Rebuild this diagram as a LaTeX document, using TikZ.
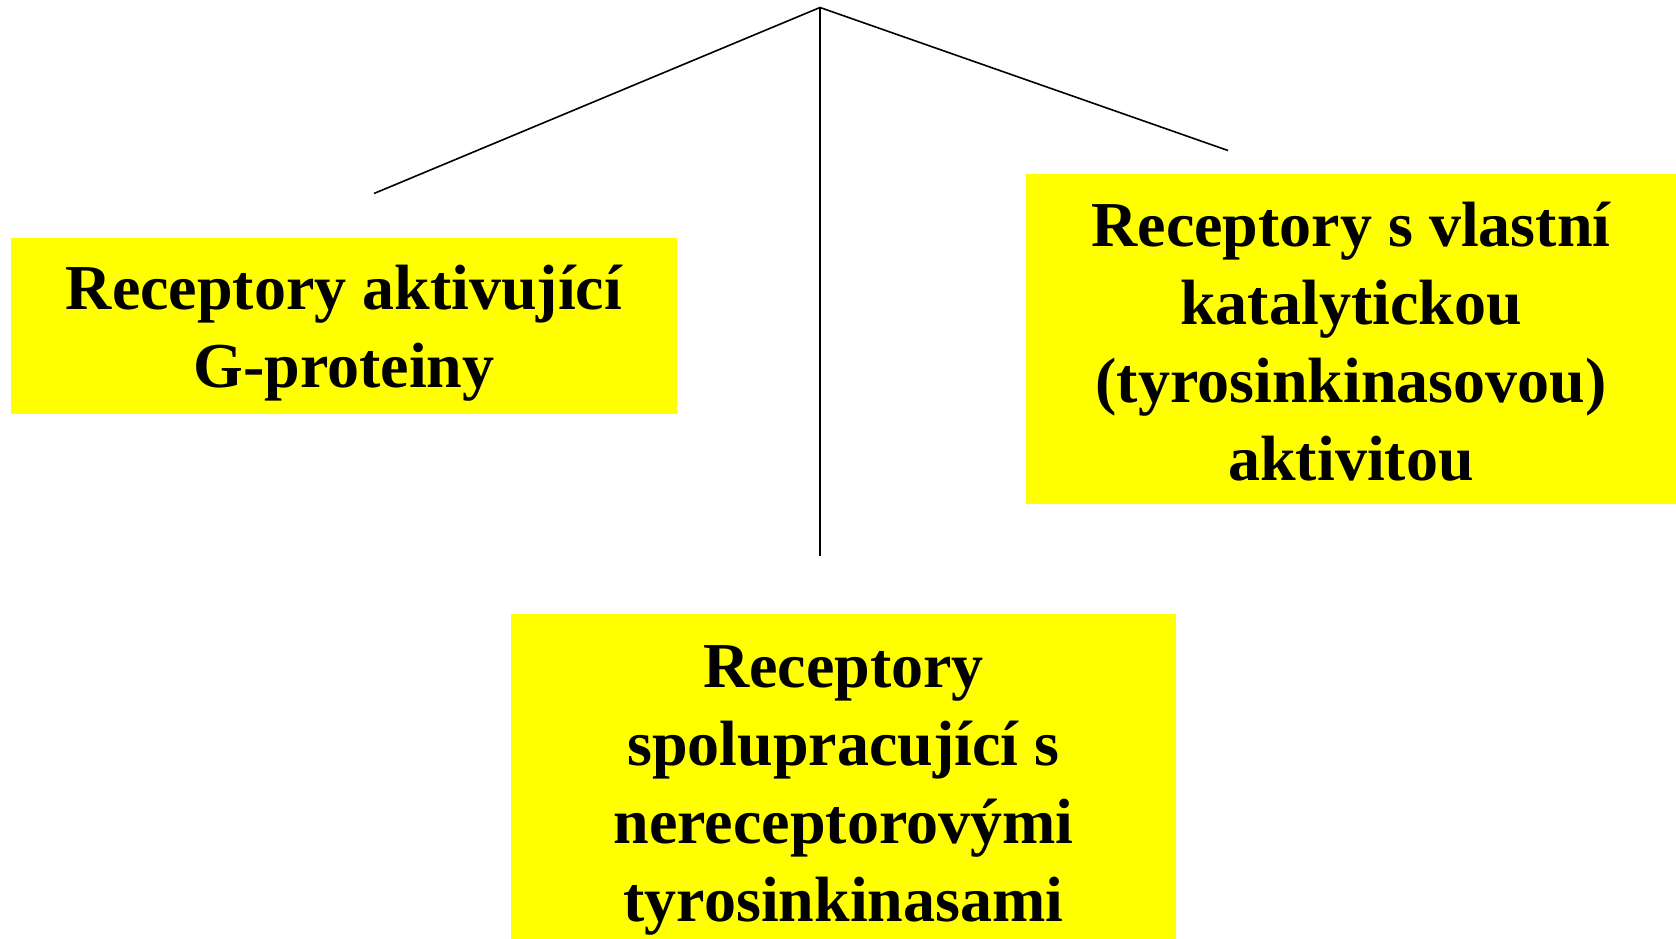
\documentclass[tikz,border=0pt]{standalone}
\usepackage{fontspec}
\setmainfont{Liberation Serif}
\definecolor{boxyellow}{RGB}{255,255,0}
\tikzset{
  ybox/.style={fill=none, draw=none, inner sep=0pt, align=center,
    font=\fontsize{64}{78}\selectfont\bfseries},
  conn/.style={line width=1.6pt, black}
}
\begin{document}
\begin{tikzpicture}[x=1pt,y=-1pt]
\useasboundingbox (0,0) rectangle (1676,939);
% boxes
\fill[boxyellow] (11,238) rectangle (677,414);
\fill[boxyellow] (1026,174) rectangle (1676,504);
\fill[boxyellow] (511,614) rectangle (1176,939);
\node[ybox] (left) at (344,333.5) {Receptory aktivující\\G-proteiny};
\node[ybox] (right) at (1351,341.5) {Receptory s vlastní\\katalytickou\\(tyrosinkinasovou)\\aktivitou};
\node[ybox] (bottom) at (843.5,790) {Receptory\\spolupracující s\\nereceptorovými\\tyrosinkinasami};
% connectors
\coordinate (apex) at (820,7.5);
\coordinate (lend) at (374,193.5);
\coordinate (rend) at (1228,150.5);
\coordinate (bend) at (820,556);
\draw[conn] (lend) -- (apex) -- (rend);
\draw[conn] (apex) -- (bend);
\end{tikzpicture}
\end{document}
